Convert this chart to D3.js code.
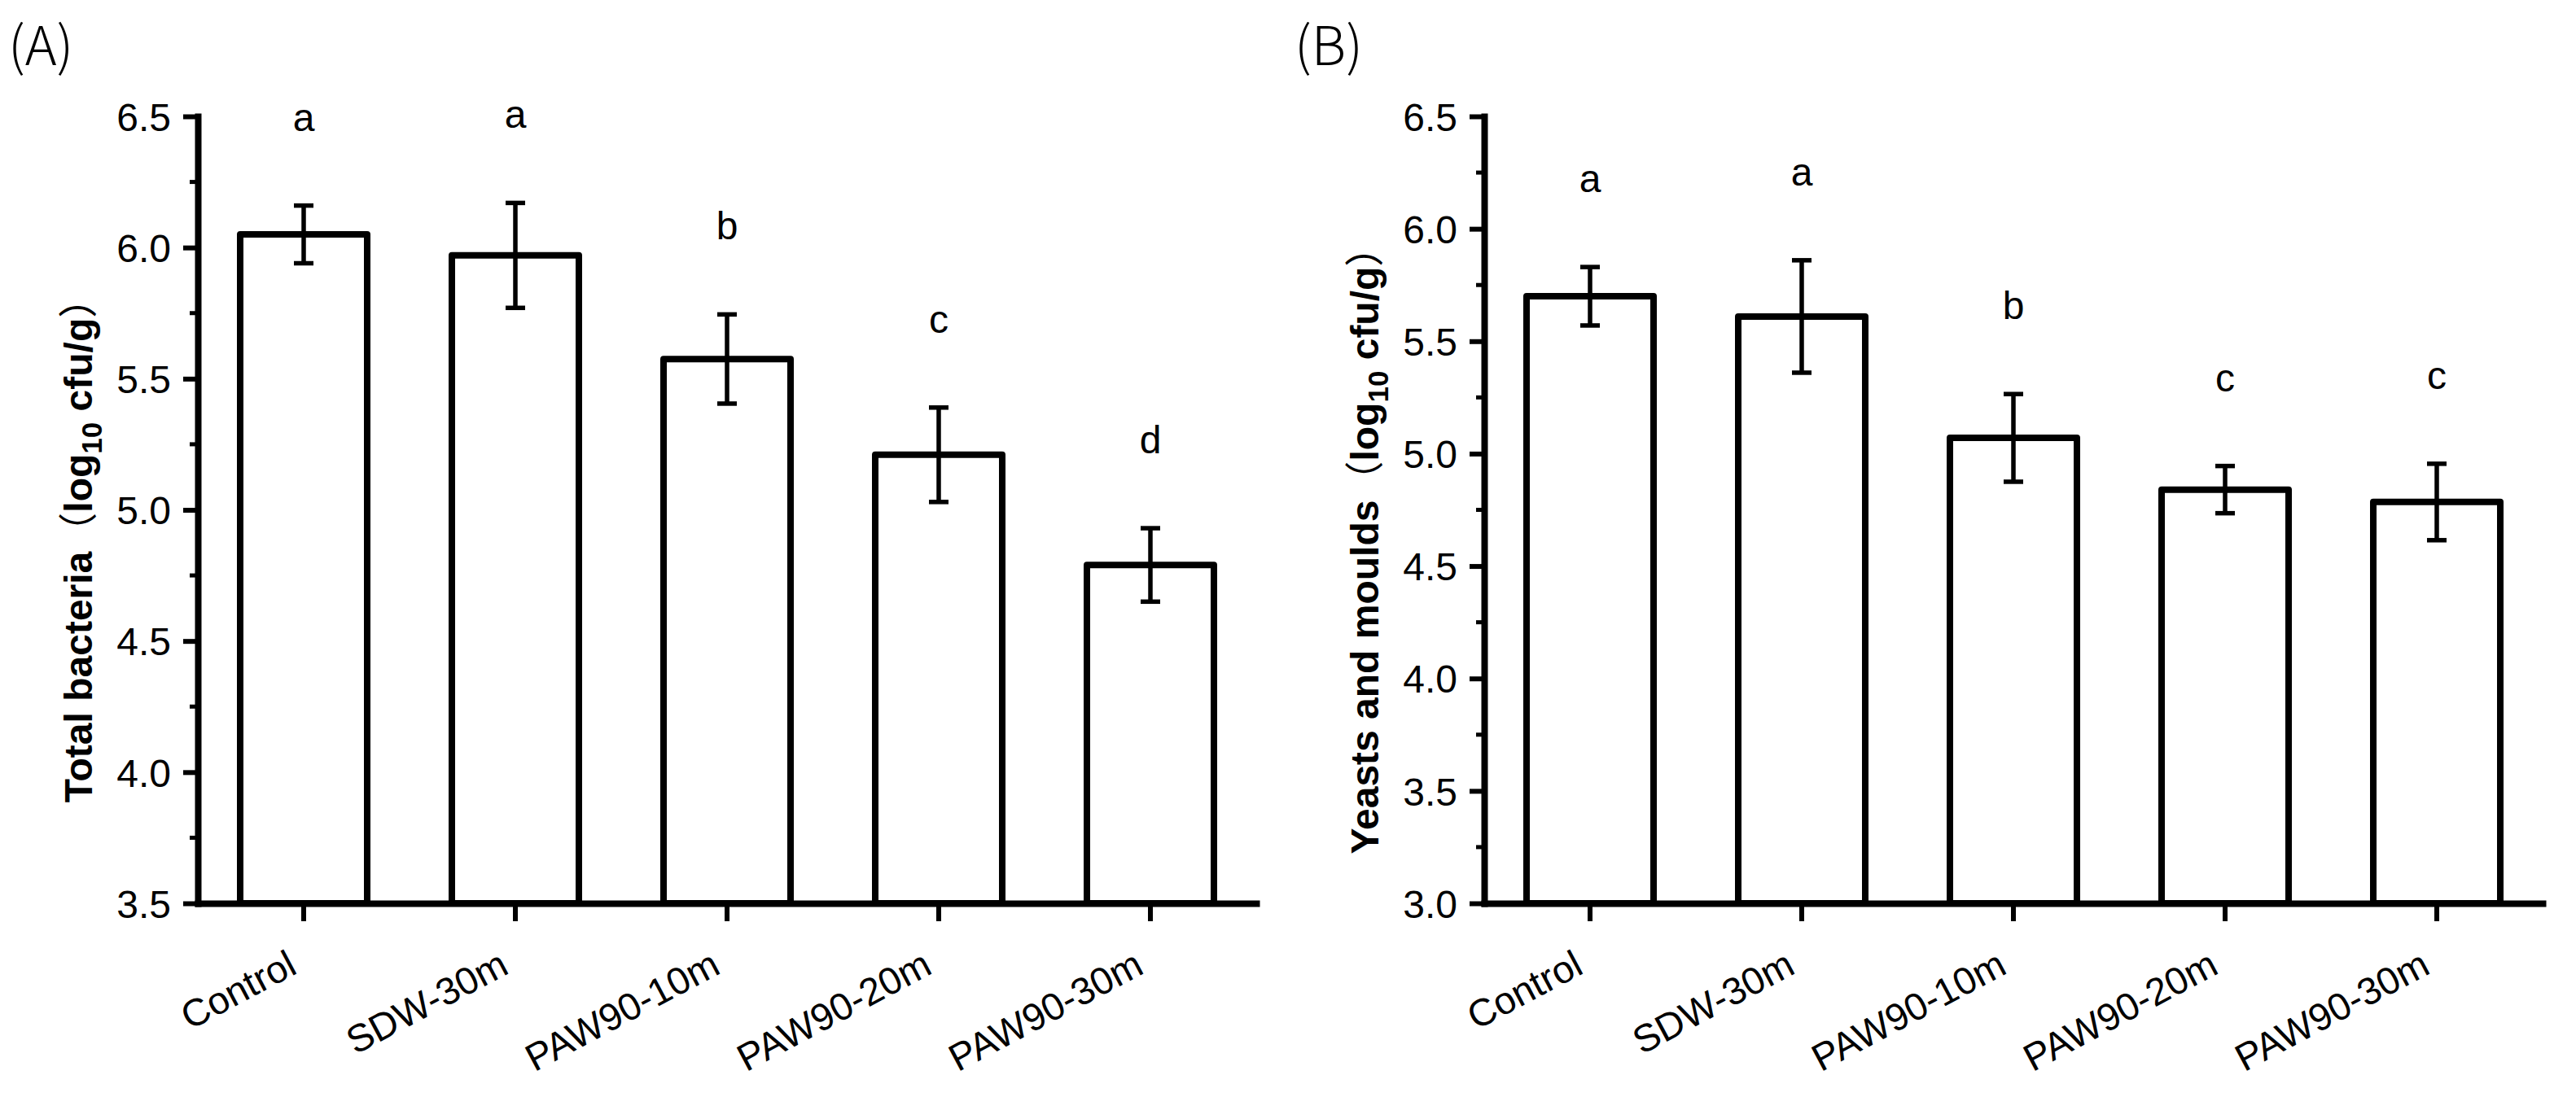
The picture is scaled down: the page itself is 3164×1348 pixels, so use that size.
<!DOCTYPE html>
<html>
<head>
<meta charset="utf-8">
<script src="https://cdn.jsdelivr.net/npm/d3@7"></script>
<style>
  body { margin: 0; background: #fff; }
  svg { display: block; }
</style>
</head>
<body>
<div id="chart"></div>
<script>
// values
const categories = ["Control", "SDW-30m", "PAW90-10m", "PAW90-20m", "PAW90-30m"];

const bacteriaMean = [6.05, 5.97, 5.575, 5.21, 4.79];
const bacteriaErr = [0.11, 0.20, 0.17, 0.18, 0.14];
const bacteriaLetters = ["a", "a", "b", "c", "d"];
const bacteriaTicks = [3.5, 4.0, 4.5, 5.0, 5.5, 6.0, 6.5];

const yeastMean = [5.70, 5.61, 5.07, 4.84, 4.785];
const yeastErr = [0.13, 0.25, 0.195, 0.105, 0.17];
const yeastLetters = ["a", "a", "b", "c", "c"];
const yeastTicks = [3.0, 3.5, 4.0, 4.5, 5.0, 5.5, 6.0, 6.5];

const width = 3164;
const height = 1348;

const svg = d3.select("#chart")
    .append("svg")
    .attr("width", width)
    .attr("height", height);

const sans = "Arial, 'Liberation Sans', Helvetica, sans-serif";
const cjk = "'Noto Sans CJK SC', 'Noto Sans', sans-serif";

function drawPanel(opts) {
    const plotW = 1300;
    const top = 143, bottom = 1110;

    const g = svg.append("g")
        .attr("transform", "translate(" + opts.left + ",0)");

    const x = d3.scaleBand()
        .domain(categories)
        .range([0, plotW])
        .paddingInner(0.4)
        .paddingOuter(0.2);

    const y = d3.scaleLinear()
        .domain(opts.domain)
        .range([bottom, top]);

    // panel letter, e.g. (A)
    svg.append("text")
        .attr("x", opts.left - 233)
        .attr("y", 80)
        .attr("font-family", cjk)
        .attr("font-weight", 300)
        .attr("font-size", 66)
        .text(opts.tag);

    // bars
    g.selectAll("rect.bar")
        .data(opts.mean)
        .enter().append("rect")
        .attr("class", "bar")
        .attr("x", (d, i) => x(categories[i]))
        .attr("y", d => y(d))
        .attr("width", x.bandwidth())
        .attr("height", d => bottom - y(d))
        .attr("fill", "#fff")
        .attr("stroke", "#000")
        .attr("stroke-width", 8)
        .attr("stroke-linejoin", "round");

    // error bars
    const cx = i => x(categories[i]) + x.bandwidth() / 2;
    const err = g.selectAll("g.err")
        .data(opts.mean)
        .enter().append("g")
        .attr("class", "err")
        .attr("stroke", "#000")
        .attr("stroke-width", 5.5);

    err.append("line")
        .attr("x1", (d, i) => cx(i))
        .attr("x2", (d, i) => cx(i))
        .attr("y1", (d, i) => y(d + opts.err[i]))
        .attr("y2", (d, i) => y(d - opts.err[i]));

    [1, -1].forEach(sign => {
        err.append("line")
            .attr("x1", (d, i) => cx(i) - 12)
            .attr("x2", (d, i) => cx(i) + 12)
            .attr("y1", (d, i) => y(d + sign * opts.err[i]))
            .attr("y2", (d, i) => y(d + sign * opts.err[i]));
    });

    // significance letters above the error bars
    g.selectAll("text.sig")
        .data(opts.letters)
        .enter().append("text")
        .attr("class", "sig")
        .attr("x", (d, i) => cx(i))
        .attr("y", (d, i) => y(opts.mean[i] + opts.err[i]) - 92)
        .attr("text-anchor", "middle")
        .attr("font-family", sans)
        .attr("font-size", 48)
        .text(d => d);

    // y axis, major + minor ticks
    const yAxis = g.append("g")
        .call(d3.axisLeft(y)
            .tickValues(opts.ticks)
            .tickSize(18)
            .tickSizeOuter(0)
            .tickPadding(15)
            .tickFormat(d3.format(".1f")));

    const minor = d3.range(opts.ticks.length - 1)
        .map(i => (opts.ticks[i] + opts.ticks[i + 1]) / 2);
    g.append("g")
        .selectAll("line")
        .data(minor)
        .enter().append("line")
        .attr("x1", -10)
        .attr("x2", 0)
        .attr("y1", d => y(d))
        .attr("y2", d => y(d))
        .attr("stroke", "#000")
        .attr("stroke-width", 5);

    // x axis
    const xAxis = g.append("g")
        .attr("transform", "translate(0," + bottom + ")")
        .call(d3.axisBottom(x).tickSize(22).tickSizeOuter(0).tickFormat(""));

    [yAxis, xAxis].forEach(a => {
        a.select(".domain").attr("stroke-width", 8).attr("stroke-linecap", "square");
        a.selectAll(".tick line").attr("stroke-width", 6);
    });
    yAxis.selectAll(".tick text")
        .attr("font-family", sans)
        .attr("font-size", 48)
        .attr("fill", "#000")
        .attr("dy", "0.36em");

    // rotated category labels
    g.selectAll("text.cat")
        .data(categories)
        .enter().append("text")
        .attr("class", "cat")
        .attr("transform", d => "translate(" + (x(d) + x.bandwidth() / 2 - 6) + "," + (bottom + 85) + ") rotate(-28)")
        .attr("text-anchor", "end")
        .attr("font-family", sans)
        .attr("font-size", 47)
        .text(d => d);

    // y title
    const title = svg.append("text")
        .attr("transform", "translate(" + (opts.left - 130) + "," + ((top + bottom) / 2 + 38) + ") rotate(-90)")
        .attr("text-anchor", "middle")
        .attr("font-family", sans)
        .attr("font-weight", "bold")
        .attr("font-size", 48);
    title.append("tspan").text(opts.title);
    title.append("tspan").attr("font-family", cjk).attr("font-weight", "normal").text("（");
    title.append("tspan").text("log");
    title.append("tspan").attr("font-size", 35).attr("dy", 12).text("10");
    title.append("tspan").attr("dy", -12).text(" cfu/g");
    title.append("tspan").attr("font-family", cjk).attr("font-weight", "normal").text("）");
}

drawPanel({
    left: 243,
    tag: "(A)",
    domain: [3.5, 6.5],
    ticks: bacteriaTicks,
    mean: bacteriaMean,
    err: bacteriaErr,
    letters: bacteriaLetters,
    title: "Total bacteria"
});

drawPanel({
    left: 1823,
    tag: "(B)",
    domain: [3.0, 6.5],
    ticks: yeastTicks,
    mean: yeastMean,
    err: yeastErr,
    letters: yeastLetters,
    title: "Yeasts and moulds"
});
</script>
</body>
</html>
